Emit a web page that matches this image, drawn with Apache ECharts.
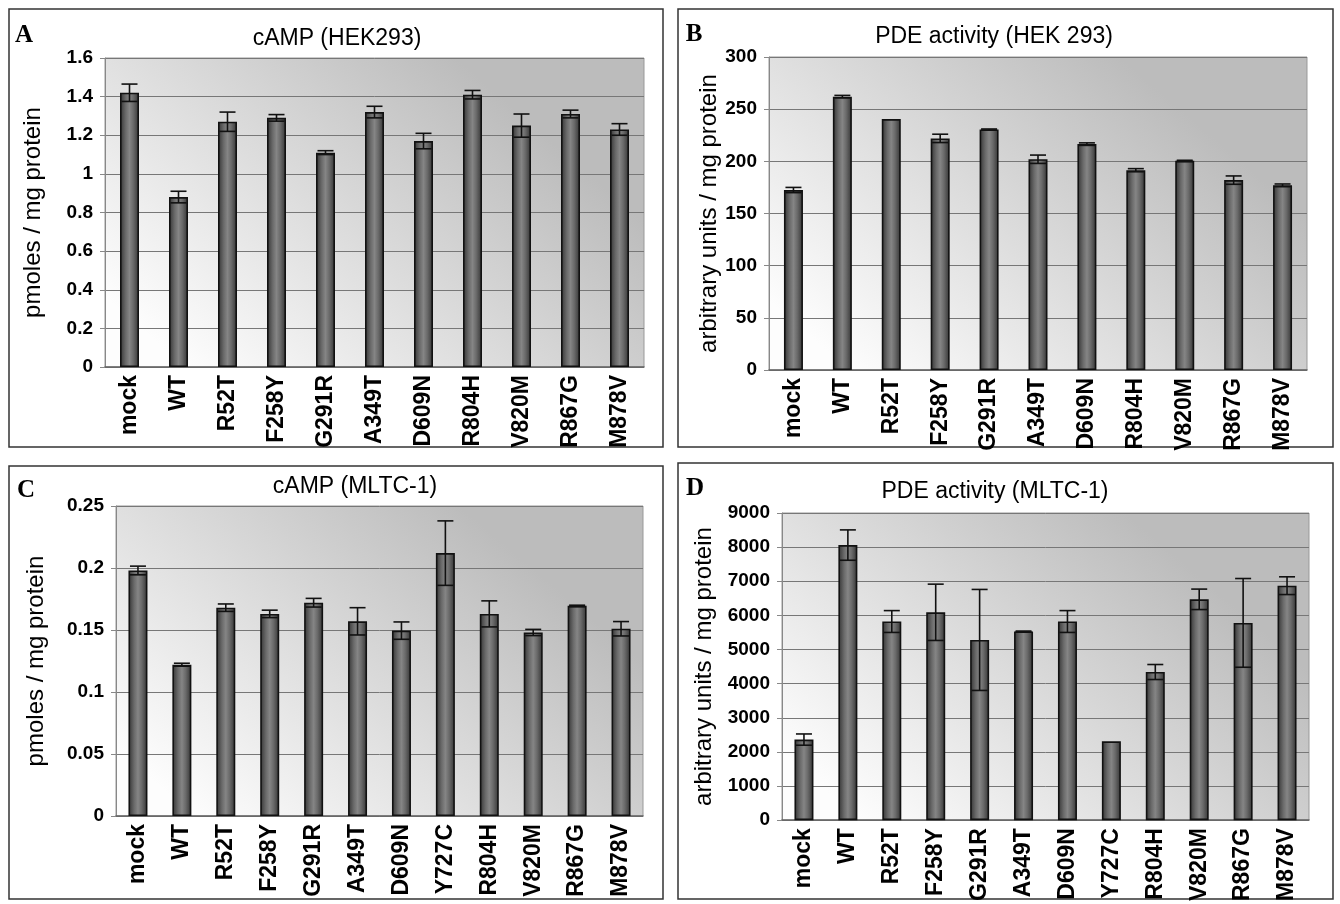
<!DOCTYPE html>
<html>

<head>
    <meta charset="utf-8">
    <title>cAMP / PDE activity</title>
    <script src="https://cdn.jsdelivr.net/npm/echarts@6/dist/echarts.min.js"></script>
    <style>
        body {
            margin: 0;
            background: #fff;
        }

        #main {
            width: 1340px;
            height: 904px;
        }
    </style>
</head>

<body>
    <div id="main"></div>
    <script>
        // categories
        const catsHEK = ['mock', 'WT', 'R52T', 'F258Y', 'G291R', 'A349T', 'D609N', 'R804H', 'V820M', 'R867G', 'M878V'];
        const catsMLTC = ['mock', 'WT', 'R52T', 'F258Y', 'G291R', 'A349T', 'D609N', 'Y727C', 'R804H', 'V820M', 'R867G', 'M878V'];

        // A: cAMP (HEK293)
        const campHEK = [1.42, 0.88, 1.27, 1.29, 1.11, 1.32, 1.17, 1.41, 1.25, 1.31, 1.23];
        const campHEKErr = [0.045, 0.03, 0.05, 0.017, 0.01, 0.03, 0.04, 0.022, 0.06, 0.02, 0.03];
        // B: PDE activity (HEK 293)
        const pdeHEK = [172.5, 262, 240.5, 222, 230.5, 202, 216.5, 191.5, 200.5, 182, 177];
        const pdeHEKErr = [2.5, 1.2, 0, 4, 0.5, 4, 1.2, 1.5, 0.5, 4, 1.3];
        // C: cAMP (MLTC-1)
        const campMLTC = [0.198, 0.122, 0.168, 0.163, 0.172, 0.157, 0.1495, 0.212, 0.163, 0.148, 0.1695, 0.151];
        const campMLTCErr = [0.0035, 0.0012, 0.003, 0.003, 0.0035, 0.011, 0.007, 0.026, 0.0105, 0.0025, 0.0005, 0.0058];
        // D: PDE activity (MLTC-1)
        const pdeMLTC = [2360, 8060, 5820, 6090, 5280, 5530, 5820, 2310, 4340, 6470, 5780, 6870];
        const pdeMLTCErr = [165, 445, 320, 825, 1480, 10, 320, 0, 220, 300, 1300, 260];

        const SANS = '"Liberation Sans", Arial, sans-serif';

        const panels = [
            { letter: 'A', title: 'cAMP (HEK293)', yName: 'pmoles / mg protein', cats: catsHEK, vals: campHEK, errs: campHEKErr,
              grid: { left: 105, top: 58, width: 539, height: 309 }, max: 1.6, interval: 0.2, nameGap: 60,
              box: [9, 9, 654, 438], letterPos: [24, 36], titlePos: [337, 39] },
            { letter: 'B', title: 'PDE activity (HEK 293)', yName: 'arbitrary units / mg protein', cats: catsHEK, vals: pdeHEK, errs: pdeHEKErr,
              grid: { left: 769, top: 57, width: 538, height: 313 }, max: 300, interval: 50, nameGap: 44,
              box: [678, 9, 655, 438], letterPos: [694, 35], titlePos: [994, 37] },
            { letter: 'C', title: 'cAMP (MLTC-1)', yName: 'pmoles / mg protein', cats: catsMLTC, vals: campMLTC, errs: campMLTCErr,
              grid: { left: 116, top: 506, width: 527, height: 310 }, max: 0.25, interval: 0.05, nameGap: 68,
              box: [9, 466, 654, 433], letterPos: [26, 491], titlePos: [355, 487] },
            { letter: 'D', title: 'PDE activity (MLTC-1)', yName: 'arbitrary units / mg protein', cats: catsMLTC, vals: pdeMLTC, errs: pdeMLTCErr,
              grid: { left: 782, top: 513, width: 527, height: 310 }, max: 9000, interval: 1000, nameGap: 66,
              box: [678, 463, 655, 436], letterPos: [695, 489], titlePos: [995, 492] }
        ];

        const barColor = {
            type: 'linear', x: 0, y: 0, x2: 1, y2: 0,
            colorStops: [
                { offset: 0, color: '#333' },
                { offset: 0.3, color: '#6a6a6a' },
                { offset: 0.5, color: '#858585' },
                { offset: 0.7, color: '#6a6a6a' },
                { offset: 1, color: '#333' }
            ]
        };
        const plotBg = {
            type: 'linear', x: 0.15, y: 1, x2: 0.65, y2: 0,
            colorStops: [
                { offset: 0, color: '#fdfdfd' },
                { offset: 1, color: '#bcbcbc' }
            ]
        };

        // error bar: vertical line with a cap at both ends
        function errorItem(params, api) {
            const x = api.value(0);
            const v = api.value(1);
            const e = api.value(2);
            if (!e) return null;
            const hi = api.coord([x, v + e]);
            const lo = api.coord([x, v - e]);
            const half = 8;
            const style = { stroke: '#111', lineWidth: 1.6 };
            return {
                type: 'group',
                children: [
                    { type: 'line', shape: { x1: hi[0], y1: hi[1], x2: lo[0], y2: lo[1] }, style: style },
                    { type: 'line', shape: { x1: hi[0] - half, y1: hi[1], x2: hi[0] + half, y2: hi[1] }, style: style },
                    { type: 'line', shape: { x1: lo[0] - half, y1: lo[1], x2: lo[0] + half, y2: lo[1] }, style: style }
                ]
            };
        }

        const grids = [], xAxes = [], yAxes = [], series = [], graphics = [];

        panels.forEach(function (p, i) {
            grids.push(Object.assign({
                show: true, backgroundColor: plotBg, borderColor: '#999', borderWidth: 1
            }, p.grid));

            xAxes.push({
                type: 'category', gridIndex: i, data: p.cats,
                axisLine: { lineStyle: { color: '#666', width: 1.5 } },
                axisTick: { show: false },
                axisLabel: { rotate: 90, margin: 8, color: '#000', fontFamily: SANS, fontSize: 23, fontWeight: 'bold', interval: 0 }
            });

            yAxes.push({
                type: 'value', gridIndex: i, min: 0, max: p.max, interval: p.interval,
                name: p.yName, nameLocation: 'middle', nameRotate: 90, nameGap: p.nameGap,
                nameTextStyle: { color: '#000', fontFamily: SANS, fontSize: 24 },
                axisLine: { show: true, lineStyle: { color: '#888' } },
                axisTick: { show: true, length: 5, lineStyle: { color: '#888' } },
                axisLabel: {
                    margin: 12, color: '#000', fontFamily: SANS, fontSize: 19, fontWeight: 'bold',
                    formatter: function (v) { return String(+v.toFixed(4)); }
                },
                splitLine: { lineStyle: { color: '#777', width: 1 } }
            });

            series.push({
                type: 'bar', xAxisIndex: i, yAxisIndex: i, data: p.vals, barWidth: 19,
                itemStyle: { color: barColor, borderColor: '#111', borderWidth: 1.6 }
            });

            series.push({
                type: 'custom', xAxisIndex: i, yAxisIndex: i, z: 5,
                renderItem: errorItem,
                data: p.vals.map(function (v, k) { return [k, v, p.errs[k]]; })
            });

            // panel frame, letter and title
            graphics.push({
                type: 'rect', z: -1,
                shape: { x: p.box[0], y: p.box[1], width: p.box[2], height: p.box[3] },
                style: { fill: 'none', stroke: '#333', lineWidth: 1.5 }
            });
            graphics.push({
                type: 'text', x: p.letterPos[0], y: p.letterPos[1],
                style: { text: p.letter, font: 'bold 25px "Liberation Serif", "Times New Roman", serif', fill: '#000', align: 'center', verticalAlign: 'middle' }
            });
            graphics.push({
                type: 'text', x: p.titlePos[0], y: p.titlePos[1],
                style: { text: p.title, font: '23px ' + SANS, fill: '#000', align: 'center', verticalAlign: 'middle' }
            });
        });

        const chart = echarts.init(document.getElementById('main'));
        chart.setOption({
            animation: false,
            backgroundColor: '#fff',
            grid: grids,
            xAxis: xAxes,
            yAxis: yAxes,
            series: series,
            graphic: graphics
        });
    </script>
</body>

</html>
